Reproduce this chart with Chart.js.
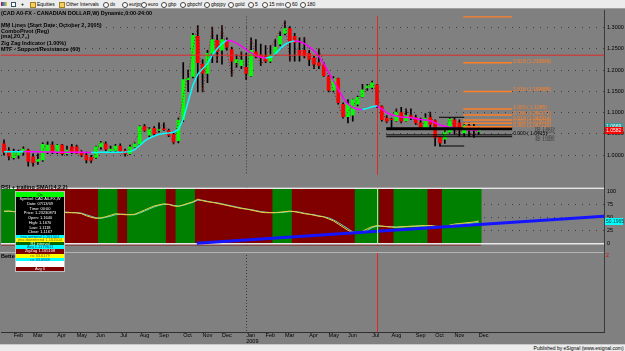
<!DOCTYPE html>
<html>
<head>
<meta charset="utf-8">
<script src="https://cdn.jsdelivr.net/npm/chart.js@4.4.1/dist/chart.umd.min.js"></script>
<style>
  html, body { margin: 0; padding: 0; }
  body { width: 625px; height: 351px; overflow: hidden; position: relative; background: #808080;
         font-family: "Liberation Sans", Arial, sans-serif; }
  canvas { position: absolute; left: 0; }
  #price { top: 10px; }
  #rsi { top: 181px; }
  #better { top: 252px; }
  .abs { position: absolute; white-space: nowrap; z-index: 5; }
  #toolbar { position: absolute; left: 0; top: 0; width: 625px; height: 8px; background: #ececec;
             border-bottom: 1px solid #a0a0a0; z-index: 5; }
  .tb { position: absolute; top: 1px; font-size: 5px; line-height: 6px; color: #000; }
  .ico { position: absolute; top: 2px; width: 4px; height: 4px; }
  .note { font-size: 5.5px; font-weight: bold; color: #000; line-height: 6px; }
  #axisline { position: absolute; left: 604px; top: 10px; width: 1px; height: 322px; background: #3a3a3a; z-index: 4; }
  .sep { position: absolute; left: 0; width: 604px; height: 1px; background: #b4b4b4; z-index: 4; }
  #status { position: absolute; left: 0; top: 344px; width: 625px; height: 7px; background: #ececec;
            border-top: 1px solid #c8c8c8; font-size: 5px; line-height: 7px; text-align: right; z-index: 5; }
  #dw { position: absolute; left: 15px; top: 191px; width: 48px; border: 1px solid #c0c0c0; background: #000; z-index: 6; }
  #dw div { font-size: 4px; text-align: center; overflow: hidden; }
</style>
</head>
<body>
<div id="toolbar"></div>
<canvas id="price" width="625" height="171"></canvas>
<canvas id="rsi" width="625" height="71"></canvas>
<canvas id="better" width="625" height="92"></canvas>
<div id="axisline"></div>
<div class="sep" style="top:252px"></div>
<div id="dw"></div>
<div id="status">Published by eSignal (www.esignal.com)&nbsp;</div>
<script>
// weekly bars, first bar = week of Jan 21 2008, last = week of Dec 7 2009
const OPEN = [
  1.0268, 1.0109, 0.9942, 1.0000, 1.0072, 1.0123, 0.9964, 0.9855, 0.9891, 1.0072,
  1.0239, 1.0072, 1.0239, 1.0036, 1.0196, 1.0196, 1.0072, 1.0000, 0.9949, 0.9949,
  1.0196, 1.0268, 1.0109, 1.0109, 1.0217, 1.0109, 1.0036, 1.0196, 1.0268, 1.0674,
  1.0471, 1.0630, 1.0580, 1.0620, 1.0580, 1.0486, 1.0341, 1.0841, 1.1775, 1.1848,
  1.2790, 1.2138, 1.1920, 1.2391, 1.2696, 1.2464, 1.2696, 1.2478, 1.2174, 1.2101,
  1.2065, 1.1862, 1.2428, 1.2355, 1.2319, 1.2210, 1.2391, 1.2609, 1.2862, 1.2971,
  1.2790, 1.2464, 1.2464, 1.2390, 1.2283, 1.2174, 1.2116, 1.1848, 1.1522, 1.1797,
  1.1196, 1.0906, 1.0942, 1.1196, 1.1377, 1.1580, 1.1594, 1.1652, 1.1145, 1.0870,
  1.0848, 1.0812, 1.1000, 1.0812, 1.0928, 1.0884, 1.0761, 1.0652, 1.0884, 1.0812,
  1.0420, 1.0377, 1.0544, 1.0833, 1.0761, 1.0522, 1.0688, 1.0652, 1.0560
];
const HIGH = [
  1.0362, 1.0181, 1.0145, 1.0123, 1.0196, 1.0145, 1.0036, 1.0036, 1.0290, 1.0312,
  1.0312, 1.0254, 1.0254, 1.0217, 1.0254, 1.0239, 1.0109, 1.0072, 1.0000, 1.0217,
  1.0326, 1.0312, 1.0217, 1.0254, 1.0268, 1.0145, 1.0239, 1.0290, 1.0688, 1.0725,
  1.0652, 1.0674, 1.0761, 1.0761, 1.0616, 1.0543, 1.0870, 1.2174, 1.2000, 1.2862,
  1.3043, 1.2246, 1.2464, 1.3007, 1.2826, 1.3043, 1.2754, 1.2536, 1.2355, 1.2428,
  1.2391, 1.2754, 1.2717, 1.2609, 1.2573, 1.2573, 1.2717, 1.2899, 1.3152, 1.3020,
  1.2862, 1.2753, 1.2761, 1.2464, 1.2319, 1.2500, 1.2174, 1.1870, 1.1848, 1.1811,
  1.1232, 1.1304, 1.1319, 1.1391, 1.1667, 1.1667, 1.1739, 1.1667, 1.1159, 1.0928,
  1.0870, 1.1087, 1.1123, 1.1087, 1.1087, 1.0942, 1.0870, 1.0978, 1.1015, 1.0833,
  1.0435, 1.0580, 1.0870, 1.0870, 1.0833, 1.0761, 1.0761, 1.0725, 1.0667
];
const LOW = [
  1.0000, 0.9891, 0.9906, 0.9928, 1.0000, 0.9746, 0.9746, 0.9783, 0.9855, 1.0036,
  1.0036, 1.0036, 1.0000, 1.0000, 1.0036, 1.0036, 0.9964, 0.9819, 0.9819, 0.9928,
  1.0145, 1.0109, 1.0072, 1.0072, 1.0072, 0.9978, 1.0022, 1.0181, 1.0254, 1.0558,
  1.0435, 1.0457, 1.0543, 1.0580, 1.0435, 1.0268, 1.0290, 1.0790, 1.1490, 1.1812,
  1.1486, 1.1486, 1.1703, 1.2174, 1.2174, 1.2138, 1.2464, 1.1848, 1.2065, 1.2029,
  1.1775, 1.1848, 1.2283, 1.2101, 1.2174, 1.2174, 1.2355, 1.2572, 1.2826, 1.2210,
  1.2210, 1.2210, 1.2283, 1.2101, 1.2029, 1.2029, 1.1848, 1.1486, 1.1486, 1.1196,
  1.0870, 1.0761, 1.0797, 1.1159, 1.1362, 1.1522, 1.1558, 1.1123, 1.0797, 1.0761,
  1.0652, 1.0797, 1.0761, 1.0797, 1.0833, 1.0725, 1.0616, 1.0652, 1.0652, 1.0217,
  1.0217, 1.0275, 1.0522, 1.0493, 1.0435, 1.0435, 1.0435, 1.0420, 1.0493
];
const CLOSE = [
  1.0072, 0.9978, 1.0058, 1.0072, 1.0145, 0.9855, 0.9833, 0.9906, 1.0254, 1.0239,
  1.0072, 1.0239, 1.0036, 1.0123, 1.0072, 1.0051, 1.0000, 0.9891, 0.9877, 1.0196,
  1.0290, 1.0145, 1.0145, 1.0217, 1.0094, 1.0036, 1.0196, 1.0268, 1.0674, 1.0580,
  1.0616, 1.0507, 1.0600, 1.0600, 1.0471, 1.0312, 1.0826, 1.1775, 1.1812, 1.2812,
  1.2174, 1.1920, 1.2391, 1.2717, 1.2428, 1.2717, 1.2536, 1.2210, 1.2246, 1.2232,
  1.1920, 1.2464, 1.2319, 1.2283, 1.2210, 1.2355, 1.2536, 1.2790, 1.2971, 1.2645,
  1.2645, 1.2355, 1.2333, 1.2246, 1.2138, 1.2101, 1.1870, 1.1522, 1.1797, 1.1232,
  1.0906, 1.1196, 1.1304, 1.1362, 1.1536, 1.1630, 1.1703, 1.1159, 1.0833, 1.0797,
  1.0833, 1.1015, 1.0797, 1.0928, 1.0884, 1.0761, 1.0652, 1.0870, 1.0725, 1.0420,
  1.0290, 1.0544, 1.0848, 1.0616, 1.0594, 1.0710, 1.0616, 1.0594, 1.0582
];
// jma(20,7)
const MA = [
  1.0080, 1.0082, 1.0084, 1.0085, 1.0086, 1.0085, 1.0083, 1.0081, 1.0079, 1.0077,
  1.0075, 1.0073, 1.0072, 1.0071, 1.0070, 1.0069, 1.0068, 1.0067, 1.0066, 1.0067,
  1.0068, 1.0069, 1.0070, 1.0071, 1.0072, 1.0074, 1.0085, 1.0130, 1.0230, 1.0330,
  1.0400, 1.0450, 1.0490, 1.0510, 1.0520, 1.0540, 1.0600, 1.0850, 1.1250, 1.1650,
  1.1900, 1.2030, 1.2150, 1.2350, 1.2500, 1.2620, 1.2700, 1.2680, 1.2630, 1.2560,
  1.2480, 1.2400, 1.2340, 1.2300, 1.2280, 1.2300, 1.2380, 1.2500, 1.2600, 1.2660,
  1.2680, 1.2670, 1.2620, 1.2550, 1.2450, 1.2320, 1.2150, 1.1950, 1.1750, 1.1550,
  1.1350, 1.1200, 1.1120, 1.1080, 1.1075, 1.1100, 1.1140, 1.1160, 1.1080, 1.1000,
  1.0950, 1.0920, 1.0900, 1.0890, 1.0880, 1.0860, 1.0840, 1.0830, 1.0810, 1.0760,
  1.0710, 1.0680, 1.0660, 1.0640, 1.0620, 1.0610, 1.0600, 1.0590, 1.0585
];
// zig zag swing points (bar index, price)
const ZZ_IDX = [0, 1, 4, 6, 9, 12, 15, 18, 20, 25, 29, 31, 33, 35, 40, 41, 43, 44, 45, 47, 49, 50, 51, 53, 58, 59, 62, 64, 65, 70, 76, 79, 81, 82, 83, 86, 88, 90, 92, 94, 95, 97, 98];
const ZZ_PRICE = [1.0362, 0.9891, 1.0196, 0.9746, 1.0312, 1.0000, 1.0239, 0.9819, 1.0326, 0.9978, 1.0725, 1.0457, 1.0761, 1.0268, 1.3043, 1.1486, 1.3007, 1.2174, 1.3043, 1.1848, 1.2428, 1.1775, 1.2754, 1.2101, 1.3152, 1.2210, 1.2761, 1.2029, 1.2500, 1.0870, 1.1739, 1.0761, 1.1087, 1.0761, 1.1087, 1.0616, 1.1015, 1.0217, 1.0870, 1.0435, 1.0761, 1.0420, 1.0667];

const RSI = [
  62, 62, 61, 60, 61, 58, 56, 56, 60, 61,
  60, 61, 60, 59, 59, 58.5, 57, 53, 50, 48,
  49, 51, 54, 57, 56, 55, 55, 56, 60, 64,
  68, 72, 74, 76, 75, 72, 71, 74, 77, 80,
  85, 82, 80, 79, 77, 75, 73, 71, 69, 67,
  66, 64, 62, 60, 59, 59, 59, 60, 61, 62,
  61, 59, 57, 56, 54, 52, 51, 47, 43, 37,
  31, 25, 20, 19, 23, 28, 32, 34, 33, 32,
  31, 31, 32, 32, 33, 33, 34, 34, 34, 32,
  31, 32, 35, 37, 38, 39, 40, 41, 43
];
const RSI_SMA = [
  61, 62, 61, 61, 60, 59, 57, 56, 58, 60,
  60, 60, 60, 60, 59, 59, 58, 55, 52, 49,
  48, 50, 52, 55, 56, 56, 55, 55, 58, 62,
  66, 70, 73, 75, 75, 73, 72, 73, 76, 79,
  83, 83, 81, 79, 78, 76, 74, 72, 70, 68,
  66, 65, 63, 61, 60, 59, 59, 59, 60, 61,
  61, 60, 58, 56, 55, 53, 51, 49, 45, 40,
  34, 28, 22, 20, 21, 25, 30, 33, 33, 32,
  32, 31, 31, 32, 32, 33, 33, 33, 34, 33,
  32, 31, 33, 35, 36, 37, 38, 39, 40
];
// background state per bar, as runs of [colour, bar count]
const BAND_RUNS = [['g', 3], ['r', 17], ['g', 4], ['r', 2], ['g', 8], ['r', 2], ['g', 4], ['r', 16],
                   ['g', 4], ['r', 13], ['g', 5], ['r', 3], ['g', 7], ['r', 3], ['g', 8]];
const TREND_X = [39.8, 123.86];
const TREND_Y = [0, 52];

const MONTH_TICKS = [2, 6, 11, 15, 19, 24, 28, 32, 37, 41, 45, 50, 54, 58, 63, 67, 71, 76, 80, 85, 89, 93, 98];
const MONTH_LABELS = ['Feb', 'Mar', 'Apr', 'May', 'Jun', 'Jul', 'Aug', 'Sep', 'Oct', 'Nov', 'Dec', ['Jan', '2009'],
                      'Feb', 'Mar', 'Apr', 'May', 'Jun', 'Jul', 'Aug', 'Sep', 'Oct', 'Nov', 'Dec'];
const PRICE_TICKS = [1.0, 1.05, 1.1, 1.15, 1.2, 1.25, 1.3];
const RSI_TICKS = [0, 25, 50, 75, 100];

const FIB_LEVELS = [1.3252, 1.216869, 1.149888, 1.1085, 1.094172, 1.082914, 1.075018, 1.067119];
const FIB_LABELS = ['', '2.618 (1.216869)', '1.618 (1.149888)', '1.000 ( 1.1085)', '0.786 (1.094172)',
                    '0.618 (1.082914)', '0.500 (1.075018)', '0.382 (1.067119)'];
const FIB_SPAN = [94.8, 104.9];
const SR_LEVELS = [1.0620, 1.0478, 1.0435];
const SR_WIDTHS = [3, 1, 1];
const SR_SPAN = [78.9, 104.9];
const BOX_LEVELS = [1.0891, 1.0217];
const BOX_SPAN = [89.8, 95.0];
const SR_TEXT = ['R2: 1.0619', 'R1: 1.0591', 'S1: 1.0450', 'S2: 1.0425'];
const SR_TEXT_LEVELS = [1.0620, 1.0548, 1.0435, 1.0363];
const RED_LEVEL = 1.2348;
const JAN_LINE = 50;
const RED_LINE = 77;

const X_MIN = -0.62, X_MAX = 123.86;

Chart.defaults.font.family = '"Liberation Sans", Arial, sans-serif';
Chart.defaults.font.size = 6;
Chart.defaults.color = '#000';

const idx = OPEN.map((_, i) => i);
const bandColors = BAND_RUNS.flatMap(([c, n]) => Array(n).fill(c === 'g' ? '#008000' : '#800000'));

function hline(y, x0, x1, color, width, dash) {
  return {
    type: 'line', data: [{ x: x0, y }, { x: x1, y }], borderColor: color, borderWidth: width,
    borderDash: dash || [], pointRadius: 0, order: 1
  };
}

function hiddenX() {
  return { type: 'linear', min: X_MIN, max: X_MAX, offset: false, display: false };
}

function rightAxis(extra) {
  return Object.assign({
    type: 'linear',
    position: 'right',
    afterFit: s => { s.width = 21; },
    border: { display: false, dash: [1, 6] },
    grid: { color: '#3c3c3c', drawTicks: false },
    ticks: { padding: 3, color: '#000', font: { size: 5.5 } }
  }, extra);
}

// Jan 2009 dotted separator and the red date line, behind the marks
const markers = {
  id: 'markers',
  beforeDatasetsDraw(chart) {
    const { ctx, chartArea: a, scales: { x } } = chart;
    ctx.save();
    ctx.lineWidth = 1;
    ctx.strokeStyle = '#3a3a3a';
    ctx.setLineDash([1, 2]);
    const jx = Math.round(x.getPixelForValue(JAN_LINE)) + 0.5;
    ctx.beginPath(); ctx.moveTo(jx, a.top); ctx.lineTo(jx, a.bottom); ctx.stroke();
    ctx.setLineDash([]);
    ctx.strokeStyle = '#e02828';
    const rx = Math.round(x.getPixelForValue(RED_LINE)) + 0.5;
    ctx.beginPath(); ctx.moveTo(rx, a.top); ctx.lineTo(rx, a.bottom); ctx.stroke();
    ctx.restore();
  }
};
Chart.register(markers);

function tag(ctx, yPix, text, bg, fg) {
  ctx.fillStyle = bg;
  ctx.fillRect(604, Math.round(yPix - 3.5), 19, 7);
  ctx.fillStyle = fg;
  ctx.textAlign = 'left';
  ctx.textBaseline = 'middle';
  ctx.fillText(text, 606, yPix + 0.5);
}

const priceLabels = {
  id: 'priceLabels',
  afterDatasetsDraw(chart) {
    const { ctx, scales: { x, y } } = chart;
    ctx.save();
    ctx.font = '5px "Liberation Sans", Arial, sans-serif';
    ctx.textBaseline = 'bottom';
    ctx.fillStyle = '#ff7f27';
    const fx = x.getPixelForValue(FIB_SPAN[1]) + 1;
    FIB_LEVELS.forEach((lv, k) => ctx.fillText(FIB_LABELS[k], fx, y.getPixelForValue(lv) + 1));
    ctx.fillStyle = '#000';
    ctx.fillText('0.000 ( 1.0415)', fx, y.getPixelForValue(SR_LEVELS[1]) + 1.5);
    ctx.fillStyle = '#303030';
    ctx.font = '4px "Liberation Sans", Arial, sans-serif';
    ctx.textBaseline = 'middle';
    SR_TEXT.forEach((t, k) => ctx.fillText(t, fx + 22, y.getPixelForValue(SR_TEXT_LEVELS[k])));
    ctx.font = '5px "Liberation Sans", Arial, sans-serif';
    tag(ctx, y.getPixelForValue(1.0674), '1.0669', '#3a9a9a', '#d8ffff');
    tag(ctx, y.getPixelForValue(CLOSE[CLOSE.length - 1]), CLOSE[CLOSE.length - 1].toFixed(4), '#ff0000', '#ffffff');
    ctx.restore();
  }
};

new Chart(document.getElementById('price'), {
  type: 'bar',
  data: {
    datasets: [
      { type: 'bar', data: idx.map(i => ({ x: i, y: [LOW[i], HIGH[i]] })), backgroundColor: '#000',
        barThickness: 1, grouped: false, order: 9 },
      { type: 'bar', data: idx.map(i => ({ x: i, y: [OPEN[i], CLOSE[i]] })),
        backgroundColor: idx.map(i => CLOSE[i] >= OPEN[i] ? '#00ff00' : '#ff0000'),
        borderColor: '#000', borderWidth: 0, barThickness: 3, grouped: false, order: 8 },
      { type: 'line', data: ZZ_IDX.map((v, k) => ({ x: v, y: ZZ_PRICE[k] })), borderColor: '#842020',
        borderWidth: 1, borderDash: [1, 2], pointRadius: 0, order: 7 },
      hline(RED_LEVEL, X_MIN, X_MAX, '#e02828', 1),
      ...FIB_LEVELS.map(lv => hline(lv, FIB_SPAN[0], FIB_SPAN[1], '#ff7f27', 1.5)),
      ...SR_LEVELS.map((lv, k) => hline(lv, SR_SPAN[0], SR_SPAN[1], '#000', SR_WIDTHS[k])),
      ...BOX_LEVELS.map(lv => hline(lv, BOX_SPAN[0], BOX_SPAN[1], '#000', 1)),
      { type: 'line', data: idx.map(i => ({ x: i, y: MA[i] })), borderWidth: 1.5, pointRadius: 0,
        segment: { borderColor: c => c.p1.parsed.y >= c.p0.parsed.y ? '#00ffff' : '#ff00ff' }, order: 2 }
    ]
  },
  options: {
    responsive: false, animation: false, devicePixelRatio: 1,
    layout: { padding: { left: 1 } },
    plugins: { legend: { display: false }, tooltip: { enabled: false } },
    scales: {
      x: hiddenX(),
      y: rightAxis({
        min: 1 - 21 / 460, max: 1 + 150 / 460,
        afterBuildTicks: s => { s.ticks = PRICE_TICKS.map(v => ({ value: v })); },
        ticks: { padding: 3, color: '#000', font: { size: 5.5 }, callback: v => v.toFixed(4) }
      })
    }
  },
  plugins: [priceLabels]
});

const rsiExtras = {
  id: 'rsiExtras',
  afterDatasetsDraw(chart) {
    const { ctx, scales: { x, y } } = chart;
    ctx.save();
    const rx = Math.round(x.getPixelForValue(RED_LINE)) + 0.5;
    ctx.strokeStyle = '#9be89b';
    ctx.lineWidth = 1;
    ctx.beginPath(); ctx.moveTo(rx, y.getPixelForValue(104.8)); ctx.lineTo(rx, y.getPixelForValue(-0.5)); ctx.stroke();
    ctx.font = '5px "Liberation Sans", Arial, sans-serif';
    tag(ctx, y.getPixelForValue(TREND_Y[1]) + 5, '50.1965', '#00ffff', '#004040');
    ctx.restore();
  }
};

new Chart(document.getElementById('rsi'), {
  type: 'bar',
  data: {
    datasets: [
      { type: 'line', data: TREND_X.map((v, k) => ({ x: v, y: TREND_Y[k] })), borderColor: '#1414ff',
        borderWidth: 3, pointRadius: 0, order: 1 },
      { type: 'line', data: idx.map(i => ({ x: i, y: RSI[i] })), borderColor: '#f2d040', borderWidth: 1,
        pointRadius: 0, order: 2 },
      { type: 'line', data: idx.map(i => ({ x: i, y: RSI_SMA[i] })), borderColor: '#5fd3c8', borderWidth: 1,
        pointRadius: 0, order: 3 },
      hline(106.3, X_MIN, X_MAX, '#e8e8e8', 1.5),
      hline(-0.8, X_MIN, X_MAX, '#e8e8e8', 1.5),
      hline(-3.5, X_MIN, 98.5, '#800000', 1),
      { type: 'bar', data: idx.map(i => ({ x: i, y: [-0.5, 104.8] })), backgroundColor: bandColors,
        barThickness: 5, grouped: false, order: 9 }
    ]
  },
  options: {
    responsive: false, animation: false, devicePixelRatio: 1,
    layout: { padding: { left: 1 } },
    plugins: { legend: { display: false }, tooltip: { enabled: false } },
    scales: {
      x: hiddenX(),
      y: rightAxis({
        min: -3 / 0.63, max: 100 + 5 / 0.63, z: 1,
        afterBuildTicks: s => { s.ticks = RSI_TICKS.map(v => ({ value: v })); },
        grid: { drawTicks: false, color: c => (c.tick && c.tick.value > 0 && c.tick.value < 100) ? '#3c3c3c' : 'rgba(0,0,0,0)' },
        ticks: { padding: 3, color: '#000', font: { size: 5.5 }, callback: v => String(v) }
      })
    }
  },
  plugins: [rsiExtras]
});

new Chart(document.getElementById('better'), {
  type: 'line',
  data: { datasets: [{ data: [], pointRadius: 0 }] },
  options: {
    responsive: false, animation: false, devicePixelRatio: 1,
    layout: { padding: { left: 1 } },
    plugins: { legend: { display: false }, tooltip: { enabled: false } },
    scales: {
      x: {
        type: 'linear', position: 'bottom', min: X_MIN, max: X_MAX, offset: false,
        afterFit: s => { s.height = 12; },
        afterBuildTicks: s => { s.ticks = MONTH_TICKS.map(v => ({ value: v })); },
        grid: { drawOnChartArea: false, drawTicks: true, tickLength: 1, color: '#303030' },
        border: { display: true, color: '#303030' },
        ticks: { autoSkip: false, maxRotation: 0, align: 'start', padding: 0, color: '#000',
                 font: { size: 5.5, lineHeight: 1 }, callback: (v, i) => MONTH_LABELS[i] }
      },
      y: {
        position: 'right', min: 0, max: 1, afterFit: s => { s.width = 21; },
        ticks: { display: false }, grid: { display: false }, border: { display: false }
      }
    }
  }
});

// ---- text around the panes ----
const TOOLBAR = [['Equities', 37, 'folder'], ['Other Intervals', 66, 'folder'], ['dx', 110, 'clock'],
  ['eurjpy', 129, 'clock'], ['euro', 148, 'clock'], ['gbp', 168, 'clock'], ['gbpchf', 187, 'clock'],
  ['gbpjpy', 211, 'clock'], ['gold', 235, 'clock'], ['5', 255, 'clock'], ['15 min', 269, 'clock'],
  ['60', 292, 'clock'], ['180', 307, 'clock']];
const tb = document.getElementById('toolbar');
tb.innerHTML = '<span class="ico" style="left:1px;width:6px;background:linear-gradient(90deg,#c03,#39c,#fc0)"></span>' +
  '<span class="ico" style="left:11px;border:1px solid #356;width:3px;height:3px;background:#fff"></span>' +
  '<span class="tb" style="left:21px;font-weight:bold">+</span>' +
  TOOLBAR.map(([t, x, k]) =>
    (k === 'folder'
      ? `<span class="ico" style="left:${x - 7}px;background:#f4d060;border:0.5px solid #a08020"></span>`
      : `<span class="ico" style="left:${x - 7}px;border:0.5px solid #444;border-radius:50%;background:#fff"></span>`) +
    `<span class="tb" style="left:${x}px">${t}</span>`).join('');

const NOTES = [['(CAD A0-FX - CANADIAN DOLLAR,W) Dynamic,0:00-24:00', 10],
  ['MM Lines (Start Date: October 2, 2005)', 22], ['ComboPivot (Reg)', 27.5], ['jma(,20,7,,)', 33],
  ['Zig Zag Indicator (1.00%)', 39.5], ['MTF - Support/Resistance (60)', 45.5],
  ['RSI + trailing SMA(14,2,2)', 183.5], ['Better', 252.5]];
NOTES.forEach(([t, top]) => {
  const d = document.createElement('div');
  d.className = 'abs note';
  d.style.left = '1px';
  d.style.top = top + 'px';
  d.textContent = t;
  document.body.appendChild(d);
});

const DW_ROWS = [
  ['Qs', '#00ff00', '#000', 5], ['Symbol: CAD A0-FX,W', '#000', '#fff', 4.75], ['Date: 07/13/09', '#000', '#fff', 4.75],
  ['Time: 00:00', '#000', '#fff', 4.75], ['Price: 1.23230873', '#000', '#fff', 4.75], ['Open: 1.1640', '#000', '#fff', 4.75],
  ['High: 1.1670', '#000', '#fff', 4.75], ['Low: 1.1118', '#000', '#fff', 4.75], ['Close: 1.1167', '#000', '#fff', 4.75],
  ['jma uptrend 1.161504', '#00ffff', '#004080', 3.4], ['jma downtrend 1.161504', '#ffff00', '#806000', 3.4],
  ['R1 interval', '#006400', '#fff', 3.6], ['Avg 1.1179611', '#00ffff', '#004080', 4],
  ['ZigZag 1.165108', '#800000', '#fff', 4.4], ['rsi 33.6179', '#ffff00', '#806000', 4],
  ['rsi 33.0949', '#00ffff', '#004080', 3.3], ['', '#ffffff', '#000', 6], ['Avg 0', '#800000', '#fff', 4]
];
document.getElementById('dw').innerHTML = DW_ROWS.map(([t, bg, fg, h]) =>
  `<div style="background:${bg};color:${fg};height:${h}px;line-height:${h}px">${t}</div>`).join('');

const mark = document.createElement('div');
mark.className = 'abs';
mark.style.cssText += 'left:606px;top:252px;font-size:5px;color:#e00000;';
mark.textContent = '2';
document.body.appendChild(mark);
</script>
</body>
</html>
